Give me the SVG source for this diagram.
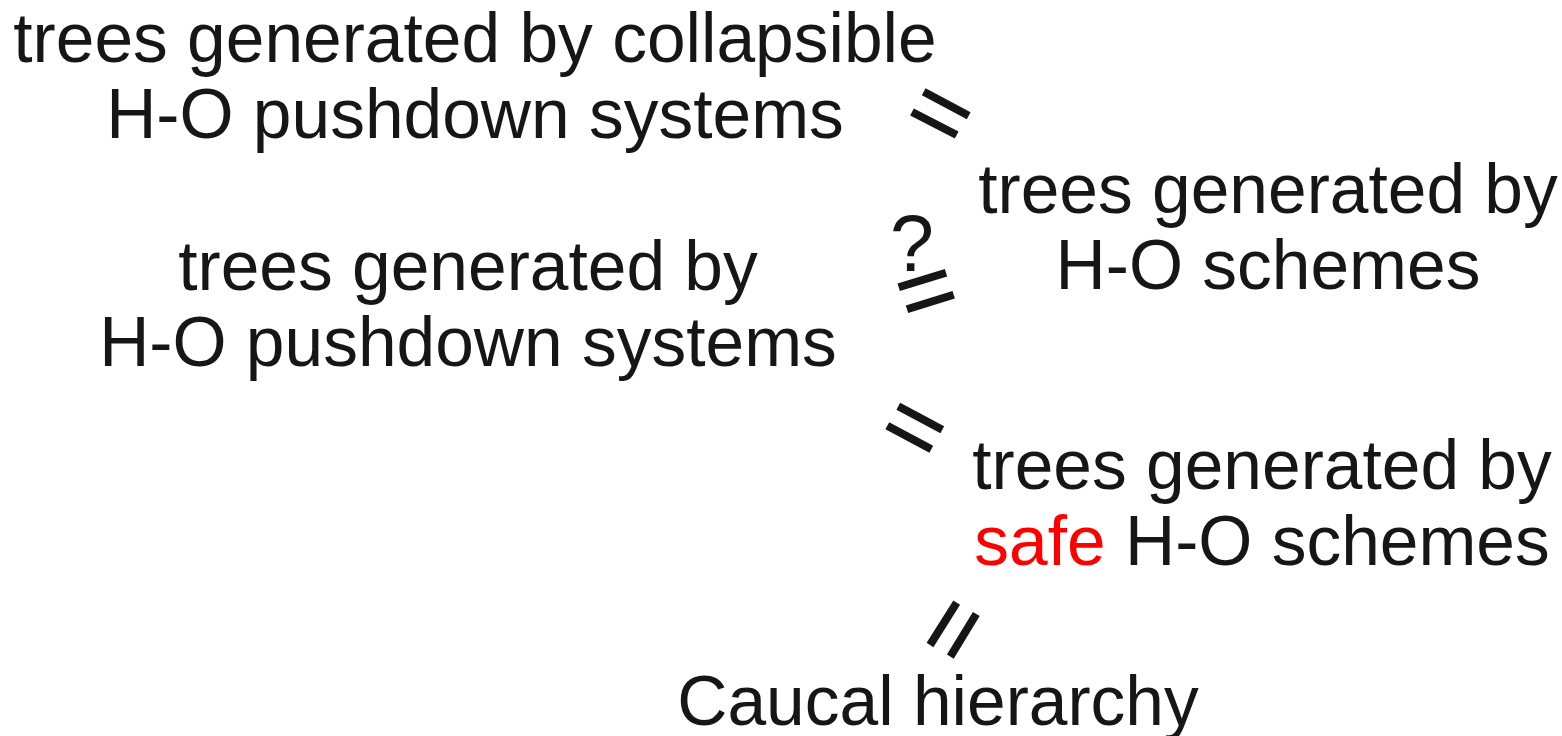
<svg xmlns="http://www.w3.org/2000/svg" width="1562" height="736" viewBox="0 0 1562 736">
<style>
.t{font-family:"Liberation Sans",Arial,sans-serif;font-size:69.5px;fill:#161616;text-anchor:middle}
.red{fill:#ff0000}
.bar{stroke:#161616;stroke-width:8;stroke-linecap:butt;fill:none}
.q{font-family:"Liberation Sans",Arial,sans-serif;font-size:79px;fill:#161616;text-anchor:middle}
</style>
<rect width="1562" height="736" fill="#ffffff"/>
<g id="collapsible-pds">
<text class="t" x="475" y="62">trees generated by collapsible</text>
<text class="t" x="475" y="138">H-O pushdown systems</text>
</g>
<g id="pds">
<text class="t" x="468" y="290">trees generated by</text>
<text class="t" x="468" y="366">H-O pushdown systems</text>
</g>
<g id="schemes">
<text class="t" x="1268" y="213">trees generated by</text>
<text class="t" x="1268" y="289">H-O schemes</text>
</g>
<g id="safe-schemes">
<text class="t" x="1262" y="489">trees generated by</text>
<text class="t" x="1262" y="565"><tspan class="red">safe</tspan> H-O schemes</text>
</g>
<g id="caucal">
<text class="t" x="938" y="725">Caucal hierarchy</text>
</g>
<g id="connectors">
<line class="bar" x1="923.7" y1="91.7" x2="968.7" y2="115.7"/>
<line class="bar" x1="912" y1="112" x2="956.7" y2="135"/>
<text class="q" x="912" y="271">?</text>
<line class="bar" x1="898.7" y1="287.3" x2="946" y2="272.7"/>
<line class="bar" x1="907" y1="309.3" x2="953.7" y2="294.7"/>
<line class="bar" x1="898.3" y1="406.3" x2="942.3" y2="429.7"/>
<line class="bar" x1="887.3" y1="425.7" x2="931.3" y2="449.3"/>
<line class="bar" x1="956.7" y1="602.7" x2="930" y2="645"/>
<line class="bar" x1="976.3" y1="614" x2="950.3" y2="656.7"/>
</g>
</svg>
